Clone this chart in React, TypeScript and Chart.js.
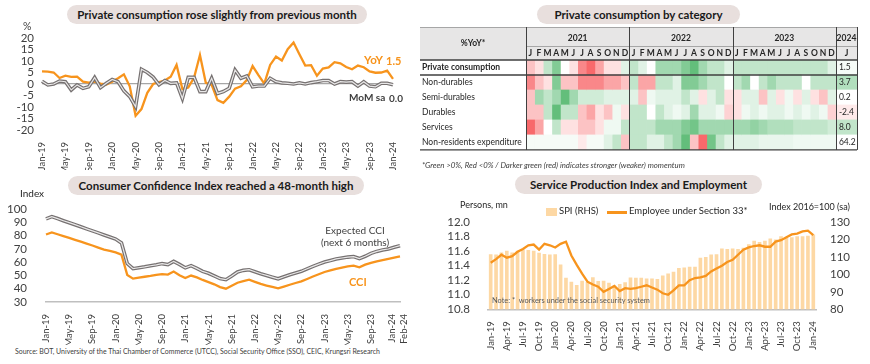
import React, { useEffect, useRef } from "react";
import { Chart, registerables } from "chart.js";

Chart.register(...registerables);

const FONT = "Lato, 'Open Sans', Arial, sans-serif";
const ORANGE = "#F7941D";
const GREY_OUT = "#767171";
const GREY_IN = "#E9E8E8";
const TEXT = "#404040";
const BAR = "#FDD8A4";

Chart.defaults.font.family = FONT;

// ---------- categories ----------
const monthAbbr = ["Jan", "Feb", "Mar", "Apr", "May", "Jun", "Jul", "Aug", "Sep", "Oct", "Nov", "Dec"];
const startYear = 2019;
function monthRange(count: number): string[] {
  const out: string[] = [];
  for (let i = 0; i < count; i++) {
    const y = startYear + Math.floor(i / 12);
    out.push(`${monthAbbr[i % 12]}-${String(y).slice(2)}`);
  }
  return out;
}
const consumptionMonths = monthRange(61); // Jan-19 .. Jan-24
const cciMonths = monthRange(62); // Jan-19 .. Feb-24
const spiMonths = monthRange(61); // Jan-19 .. Jan-24

// ---------- chart 1: private consumption ----------
const yoyValues = [
  5.5, 5.4, 5.0, 2.6, 3.6, 3.1, 3.2, 1.0, 0.6, 1.0, 0.2, -0.2,
  1.0, 2.5, 4.2, -1.0, -13.8, -10.9, -3.8, 0.0, 0.8, 1.5, 3.2, 8.3,
  -2.2, -1.5, 2.8, 12.6, 0.5, -0.4, -7.0, -8.2, -5.5, -2.0, -1.0, 1.7,
  7.8, 3.9, 0.2, 8.3, 11.9, 10.2, 15.1, 18.0, 12.9, 8.0, 8.2, 3.6,
  6.7, 7.2, 9.5, 9.0, 7.4, 6.4, 8.0, 7.3, 5.5, 4.9, 5.0, 5.8,
  2.2,
];
const momValues = [
  1.2, -0.4, 0.0, 1.3, 1.0, -2.6, -0.4, -1.9, -1.2, 2.8, -1.6, 0.3,
  2.0, 1.0, -3.0, -5.5, -9.9, 6.4, 5.0, 3.0, -0.3, 1.5, 0.3, 0.5,
  -6.3, 2.9, 2.9, -3.3, -3.3, 2.5, -4.1, -3.3, -1.9, 6.1, 2.5, 3.5,
  -1.2, -0.9, -0.9, 2.5, 1.0, 0.5, 0.3, 0.0, 0.5, 0.0, 0.6, 1.0,
  1.5, 1.5, 0.0, 1.0, 0.8, 1.0, -0.9, 1.0, -0.9, -1.2, 0.3, 0.3,
  -0.3,
];

// ---------- chart 2: heatmap ----------
const heatRowLabels = ["Private consumption", "Non-durables", "Semi-durables", "Durables", "Services", "Non-residents expenditure"];
const heatYears = ["2021", "2022", "2023", "2024"];
const heatMonthLetters = ["J", "F", "M", "A", "M", "J", "J", "A", "S", "O", "N", "D"];
// intensity scores (-5 strong red ... +5 strong green), Jan-21 .. Dec-23, Jan-24
const pcHeat = [-2, -1, 2, 4, 0, -1, -4, -5, -3, -1, -1, 1, 2, 1, 0, 3, 3, 3, 4, 5, 3, 2, 2, 1, 2, 2, 2, 2, 2, 2, 2, 2, 2, 2, 2, 1, 0.3];
const nonDurHeat = [-4, -2, -1, 4, -2, -2, -4, -4, -4, -3, -3, -2, 2, -3, -3, 2, 2, 1, 4, 4, 3, 2, 2, 0, 2, 3, 0, 2, 3, 2, 2, 2, 0, 2, 2, 2, 2.5];
const semiDurHeat = [-2, 3, 2, 3, 5, 3, 1.5, 1.5, 1.5, 1, 1, 1, 1, -2, 0.5, 1, 1, 1, 2, 1, -1, 1, 2, -1, -1, 1, 1, -2, 1, -1, 0.5, -1, 1, -1, -2, 1, 0];
const durHeat = [-2, -2, 2, 5, 2, 2, -2, -3, -1, -2, 0.5, -1, 2, 2, 0, 2, 1, 0.5, 1, 3, 1, 1, 0.5, -1.5, -1, 0.5, 1, 0.5, 1, 1, 0.5, 1, 0.5, 1, 0.5, -1.5, -0.7];
const servHeat = [-5, -3, 0, 2, -1, -1, -2, -2, -1, 0.5, 0.5, 2, 2, 2, 2, 3, 3, 3, 4, 4.5, 3, 3, 3, 3, 3, 3, 3.5, 3, 2.5, 2.5, 2.5, 2, 2, 2, 2, 1.5, 2];
const nonResHeat = [0.3, 0.3, 0.3, 0.3, 0.3, 0.3, -0.7, 0.3, 0.3, 1, 2, -2, 2, 2, 1, 1, 2, 3, 5, -2, -5, 4.5, 2, 1, 1, 1, 1, 0.7, 0.7, 0.7, 0.7, 0.5, 0.5, 0.5, 0.5, 0.5, 0];
const latestYoY = [1.5, 3.7, 0.2, -2.4, 8.0, 64.2];
const heatRows = [pcHeat, nonDurHeat, semiDurHeat, durHeat, servHeat, nonResHeat];

// ---------- chart 3: CCI ----------
const expectedCci = [
  92.6, 94.3, 92.8, 91.2, 89.7, 88.2, 86.6, 85.0, 83.5, 82.0, 80.4, 78.9,
  77.4, 74.5, 59.0, 55.1, 55.8, 56.5, 57.3, 58.0, 58.9, 58.2, 60.6, 58.3,
  55.7, 57.4, 55.3, 53.0, 51.6, 49.6, 47.6, 46.8, 49.5, 52.6, 53.8, 54.3,
  52.8, 51.3, 50.0, 48.7, 47.5, 49.0, 50.5, 51.8, 53.1, 55.0, 56.8, 58.5,
  60.1, 61.2, 62.4, 63.1, 63.8, 64.2, 62.7, 64.4, 66.6, 68.1, 69.2, 69.9,
  71.2, 72.4,
];
const cciValues = [
  80.8, 82.4, 81.0, 79.6, 78.2, 76.8, 75.4, 74.0, 72.5, 70.9, 69.4, 68.5,
  67.4, 65.7, 50.4, 47.6, 48.3, 49.0, 49.6, 50.4, 51.0, 50.6, 52.9, 50.2,
  48.1, 49.9, 48.5, 46.6, 45.0, 43.3, 41.2, 40.0, 42.3, 44.5, 45.7, 46.8,
  45.2, 43.6, 42.4, 41.3, 40.3, 41.6, 43.0, 44.3, 45.5, 47.3, 49.2, 50.9,
  52.6, 53.8, 55.0, 55.9, 56.8, 57.4, 56.1, 58.1, 59.5, 60.6, 61.5, 62.4,
  63.4, 64.4,
];

// ---------- chart 4: SPI & employment ----------
const spiValues = [
  111.6, 111.4, 112.5, 113.5, 112.5, 113.5, 114.3, 114.0, 113.6, 112.4, 111.7, 111.4,
  111.6, 105.7, 98.0, 95.8, 93.9, 96.3, 95.6, 98.3, 96.2, 96.3, 95.2, 93.5,
  94.5, 95.5, 98.2, 98.1, 98.1, 97.7, 97.7, 97.3, 99.3, 100.5, 101.5, 103.7,
  103.9, 104.4, 104.3, 109.5, 110.0, 111.4, 111.5, 114.8, 114.6, 114.8, 114.6, 115.2,
  117.3, 119.3, 118.5, 119.2, 120.5, 120.0, 121.9, 121.0, 121.2, 121.8, 121.9, 122.1,
  122.8,
];
const employeeValues = [
  11.44, 11.49, 11.55, 11.51, 11.53, 11.59, 11.63, 11.68, 11.69, 11.62, 11.70, 11.68,
  11.65, 11.70, 11.73, 11.54, 11.41, 11.29, 11.18, 11.14, 11.11, 11.04, 11.08, 11.12,
  11.05, 11.09, 11.08, 11.09, 11.11, 11.13, 11.10, 11.07, 11.02, 11.00, 11.06, 11.13,
  11.13, 11.20, 11.23, 11.24, 11.26, 11.32, 11.36, 11.40, 11.45, 11.48, 11.55, 11.62,
  11.65, 11.67, 11.68, 11.66, 11.66, 11.73, 11.75, 11.79, 11.83, 11.84, 11.87, 11.88,
  11.82,
];

// ---------- helpers ----------
function heatColor(v: number) {
  const t = Math.min(1, Math.abs(v) / 5);
  const end = v >= 0 ? [99, 190, 123] : [248, 105, 107];
  const c = end.map((e) => Math.round(255 + (e - 255) * t));
  return `rgb(${c[0]},${c[1]},${c[2]})`;
}

const rotatedTicks = (labels: string[], every: number, extra: number[] = [], size = 9.5) => ({
  autoSkip: false,
  minRotation: 90,
  maxRotation: 90,
  padding: 4,
  color: TEXT,
  font: { size, family: FONT },
  callback: (_v: any, i: number) => (i % every === 0 || extra.includes(i) ? labels[i] : null),
});

function ChartBox({ left, top, width, height, make }: { left: number; top: number; width: number; height: number; make: () => any }) {
  const ref = useRef<HTMLCanvasElement>(null);
  useEffect(() => {
    const chart = new Chart(ref.current as HTMLCanvasElement, make());
    return () => chart.destroy();
  }, []);
  return <canvas ref={ref} width={width} height={height} style={{ position: "absolute", left, top, width, height }} />;
}

function Pill({ left, top, width, text }: { left: number; top: number; width: number; text: string }) {
  return (
    <div
      style={{
        position: "absolute", left, top, width, height: 19, borderRadius: 10, background: "#E8DFDD",
        display: "flex", alignItems: "center", justifyContent: "center", fontFamily: FONT,
        fontWeight: 700, fontSize: 11.5, color: "#1A1A1A", whiteSpace: "nowrap",
      }}
    >
      {text}
    </div>
  );
}

function Txt({ left, top, size = 10, color = TEXT, bold = false, italic = false, children, style }: any) {
  return (
    <div
      style={{
        position: "absolute", left, top, fontSize: size, color, fontWeight: bold ? 700 : 400,
        fontStyle: italic ? "italic" : "normal", fontFamily: FONT, whiteSpace: "nowrap", lineHeight: 1.1, ...style,
      }}
    >
      {children}
    </div>
  );
}

// plugin that nudges the last two (crowded) tick labels of the CCI chart apart
const spreadEndLabels = {
  id: "spreadEndLabels",
  afterUpdate(chart: any) {
    const s = chart.scales.x;
    if (!s || chart.config.options.spreadEnd !== true) return;
    const items = s.getLabelItems(chart.chartArea);
    const n = s.ticks.length;
    items.forEach((it: any, k: number) => {
      const idx = it.__idx ?? k;
      if (idx === n - 1) it.options.translation[0] += 3.5;
      if (idx === n - 2) it.options.translation[0] -= 2.5;
    });
  },
};

// ---------- configs ----------
const makeConsumption = () => ({
  type: "line",
  data: {
    labels: consumptionMonths,
    datasets: [
      { data: momValues, borderColor: GREY_IN, borderWidth: 1.2, pointRadius: 0, order: 0 },
      { data: momValues, borderColor: GREY_OUT, borderWidth: 3.6, pointRadius: 0, order: 1 },
      { data: yoyValues, borderColor: ORANGE, borderWidth: 2.3, pointRadius: 0, order: 2 },
    ],
  },
  options: {
    animation: false, responsive: false,
    layout: { padding: { top: 38, right: 27, left: 0, bottom: 0 } },
    plugins: { legend: { display: false }, tooltip: { enabled: false } },
    scales: {
      x: {
        grid: { display: false }, border: { display: false },
        ticks: rotatedTicks(consumptionMonths, 4),
        afterFit: (s: any) => { s.height = 40; },
      },
      y: {
        min: -20, max: 20,
        ticks: { stepSize: 5, autoSkip: false, padding: 8, color: TEXT, font: { size: 11.5, family: FONT } },
        grid: { drawTicks: false, color: (c: any) => (c.tick && c.tick.value === 0 ? "#A6A6A6" : "rgba(0,0,0,0)"), lineWidth: 1.2 },
        border: { display: false },
        afterFit: (s: any) => { s.width = 42; },
      },
    },
  },
});

const heatPlugin = {
  id: "heatTable",
  beforeDatasetsDraw(chart: any) {
    const { ctx, chartArea: a } = chart;
    ctx.save();
    ctx.fillStyle = "#E7E6E6";
    ctx.fillRect(0, 0, a.right, a.top);
    ctx.restore();
  },
  afterDatasetsDraw(chart: any) {
    const { ctx, chartArea: a, scales } = chart;
    const x = scales.x;
    const y = scales.y;
    const rowH = a.height / heatRowLabels.length;
    ctx.save();
    ctx.fillStyle = "#262626";
    ctx.textBaseline = "middle";
    ctx.textAlign = "center";
    ctx.font = `bold 8.5px ${FONT}`;
    ctx.fillText("%YoY*", a.left / 2, 16);
    const spans = [[0, 12], [12, 24], [24, 36], [36, 38.45]];
    heatYears.forEach((yr, k) => {
      const cx = (x.getPixelForValue(spans[k][0]) + x.getPixelForValue(spans[k][1])) / 2;
      ctx.fillText(yr, cx, 11);
    });
    for (let c = 0; c < 36; c++) {
      ctx.fillText(heatMonthLetters[c % 12], x.getPixelForValue(c + 0.5), 26);
    }
    ctx.fillText(heatMonthLetters[0], (x.getPixelForValue(36) + x.getPixelForValue(38.45)) / 2, 26);
    // latest values
    ctx.textAlign = "left";
    ctx.font = `8.5px ${FONT}`;
    latestYoY.forEach((v, r) => {
      ctx.fillText(v.toFixed(1), x.getPixelForValue(36) + 3, y.getPixelForValue(r));
    });
    // lines
    ctx.strokeStyle = "#A6A6A6";
    ctx.lineWidth = 1;
    ctx.beginPath();
    ctx.moveTo(0, 0.5); ctx.lineTo(a.right, 0.5);
    ctx.moveTo(a.left, 19.5); ctx.lineTo(a.right, 19.5);
    ctx.stroke();
    ctx.strokeStyle = "#404040";
    ctx.lineWidth = 1.4;
    ctx.beginPath();
    ctx.moveTo(0, a.top); ctx.lineTo(a.right, a.top);
    ctx.moveTo(0, a.top + rowH); ctx.lineTo(a.right, a.top + rowH);
    ctx.moveTo(0, a.bottom); ctx.lineTo(a.right, a.bottom);
    ctx.stroke();
    ctx.lineWidth = 1;
    ctx.beginPath();
    [0, 12, 24, 36, 38.45].forEach((v) => {
      const px = Math.round(x.getPixelForValue(v)) + 0.5;
      ctx.moveTo(px, 0); ctx.lineTo(px, a.bottom);
    });
    ctx.stroke();
    ctx.restore();
  },
};

const makeHeat = () => ({
  type: "bar",
  data: {
    labels: heatRowLabels,
    datasets: Array.from({ length: 37 }, (_, c) => ({
      data: heatRows.map(() => (c < 36 ? [c, c + 1] : [36, 38.45])),
      backgroundColor: heatRows.map((r) => heatColor(r[c])),
      borderWidth: 0,
      barPercentage: 1,
      categoryPercentage: 1,
      grouped: false,
    })),
  },
  options: {
    indexAxis: "y",
    animation: false, responsive: false,
    layout: { padding: { top: 33, right: 3, left: 2, bottom: 3 } },
    plugins: { legend: { display: false }, tooltip: { enabled: false } },
    scales: {
      x: { type: "linear", min: 0, max: 38.45, display: false },
      y: {
        grid: { display: false }, border: { display: false },
        ticks: {
          crossAlign: "far", color: "#262626",
          font: (c: any) => ({ family: FONT, size: 8.5, weight: c.index === 0 ? "bold" : "normal" }),
        },
        afterFit: (s: any) => { s.width = 104; },
      },
    },
  },
  plugins: [heatPlugin],
});

const makeCci = () => ({
  type: "line",
  data: {
    labels: cciMonths,
    datasets: [
      { data: expectedCci, borderColor: GREY_IN, borderWidth: 1.2, pointRadius: 0, order: 0 },
      { data: expectedCci, borderColor: GREY_OUT, borderWidth: 3.6, pointRadius: 0, order: 1 },
      { data: cciValues, borderColor: ORANGE, borderWidth: 2.3, pointRadius: 0, order: 2 },
    ],
  },
  options: {
    spreadEnd: true,
    animation: false, responsive: false,
    layout: { padding: { top: 39, right: 20, left: 0, bottom: 0 } },
    plugins: { legend: { display: false }, tooltip: { enabled: false } },
    scales: {
      x: {
        grid: { display: false }, border: { display: true, color: "#BFBFBF", width: 1.5 },
        ticks: rotatedTicks(cciMonths, 4, [61]),
        afterFit: (s: any) => { s.height = 43; },
      },
      y: {
        min: 30, max: 100,
        ticks: { stepSize: 10, autoSkip: false, padding: 11, color: TEXT, font: { size: 11.5, family: FONT } },
        grid: { display: false }, border: { display: false },
        afterFit: (s: any) => { s.width = 46; },
      },
    },
  },
  plugins: [spreadEndLabels],
});

const makeSpi = () => ({
  type: "bar",
  data: {
    labels: spiMonths,
    datasets: [
      { type: "line", data: employeeValues, yAxisID: "y", borderColor: ORANGE, borderWidth: 2.3, pointRadius: 0, order: 0 },
      { type: "bar", data: spiValues, yAxisID: "y2", backgroundColor: BAR, barPercentage: 0.68, categoryPercentage: 1, order: 1 },
    ],
  },
  options: {
    animation: false, responsive: false,
    layout: { padding: { top: 52, right: 0, left: 0, bottom: 0 } },
    plugins: { legend: { display: false }, tooltip: { enabled: false } },
    scales: {
      x: {
        grid: { display: false }, border: { display: true, color: "#BFBFBF", width: 1.5 },
        ticks: rotatedTicks(spiMonths, 3),
        afterFit: (s: any) => { s.height = 50.7; },
      },
      y: {
        position: "left", min: 10.8, max: 12.0,
        ticks: { stepSize: 0.2, autoSkip: false, padding: 10, color: TEXT, font: { size: 11.5, family: FONT }, callback: (v: any) => Number(v).toFixed(1) },
        grid: { display: false }, border: { display: false },
        afterFit: (s: any) => { s.width = 68; },
      },
      y2: {
        position: "right", min: 80, max: 130,
        ticks: { stepSize: 10, autoSkip: false, padding: 6, color: TEXT, font: { size: 11.5, family: FONT } },
        grid: { display: false }, border: { display: false },
        afterFit: (s: any) => { s.width = 54; },
      },
    },
  },
});

export default function App() {
  return (
    <div style={{ position: "fixed", left: 0, top: 0, width: 870, height: 364, background: "#fff", overflow: "hidden", fontFamily: FONT }}>
      {/* panel 1 */}
      <Pill left={67} top={5} width={300} text="Private consumption rose slightly from previous month" />
      <ChartBox left={0} top={0} width={420} height={170} make={makeConsumption} />
      <Txt left={23} top={21} size={10.5}>%</Txt>
      <Txt left={364} top={54} size={11.5} bold color={ORANGE}>YoY</Txt>
      <Txt left={386} top={55} size={11} bold color={ORANGE}>1.5</Txt>
      <Txt left={349} top={92} size={10} bold color={TEXT}>MoM sa</Txt>
      <Txt left={389} top={93} size={10} bold color={TEXT}>0.0</Txt>

      {/* panel 2 */}
      <Pill left={537} top={5} width={203} text="Private consumption by category" />
      <ChartBox left={420} top={27} width={440} height={131} make={makeHeat} />
      <Txt left={422} top={161} size={7.8} italic color={TEXT}>*Green &gt;0%, Red &lt;0% / Darker green (red) indicates stronger (weaker) momentum</Txt>

      {/* panel 3 */}
      <Pill left={68} top={176} width={296} text="Consumer Confidence Index reached a 48-month high" />
      <ChartBox left={0} top={170} width={420} height={175} make={makeCci} />
      <Txt left={20} top={188} size={10} color="#262626">Index</Txt>
      <Txt left={310} top={224} size={10} color={TEXT} style={{ width: 90, textAlign: "center", lineHeight: "12px" }}>
        Expected CCI<br />(next 6 months)
      </Txt>
      <Txt left={349} top={276} size={11} bold color={ORANGE}>CCI</Txt>
      <Txt left={15} top={348} size={6.95} color={TEXT}>
        Source: BOT, University of the Thai Chamber of Commerce (UTCC), Social Security Office (SSO), CEIC, Krungsri Research
      </Txt>

      {/* panel 4 */}
      <Pill left={515} top={175} width={247} text="Service Production Index and Employment" />
      <ChartBox left={420} top={170} width={450} height={190} make={makeSpi} />
      <Txt left={460} top={200} size={9} color="#262626">Persons, mn</Txt>
      <Txt left={769} top={202} size={9} color="#262626">Index 2016=100 (sa)</Txt>
      <div style={{ position: "absolute", left: 546, top: 208, width: 11, height: 8, background: BAR }} />
      <Txt left={559} top={206} size={9.5} color="#262626">SPI (RHS)</Txt>
      <div style={{ position: "absolute", left: 607, top: 211, width: 20, height: 2.5, background: ORANGE }} />
      <Txt left={629} top={206} size={9.5} color="#262626">Employee under Section 33*</Txt>
      <Txt left={492} top={297} size={7.4} color="#595959">Note: *&nbsp; workers under the social security system</Txt>
    </div>
  );
}
